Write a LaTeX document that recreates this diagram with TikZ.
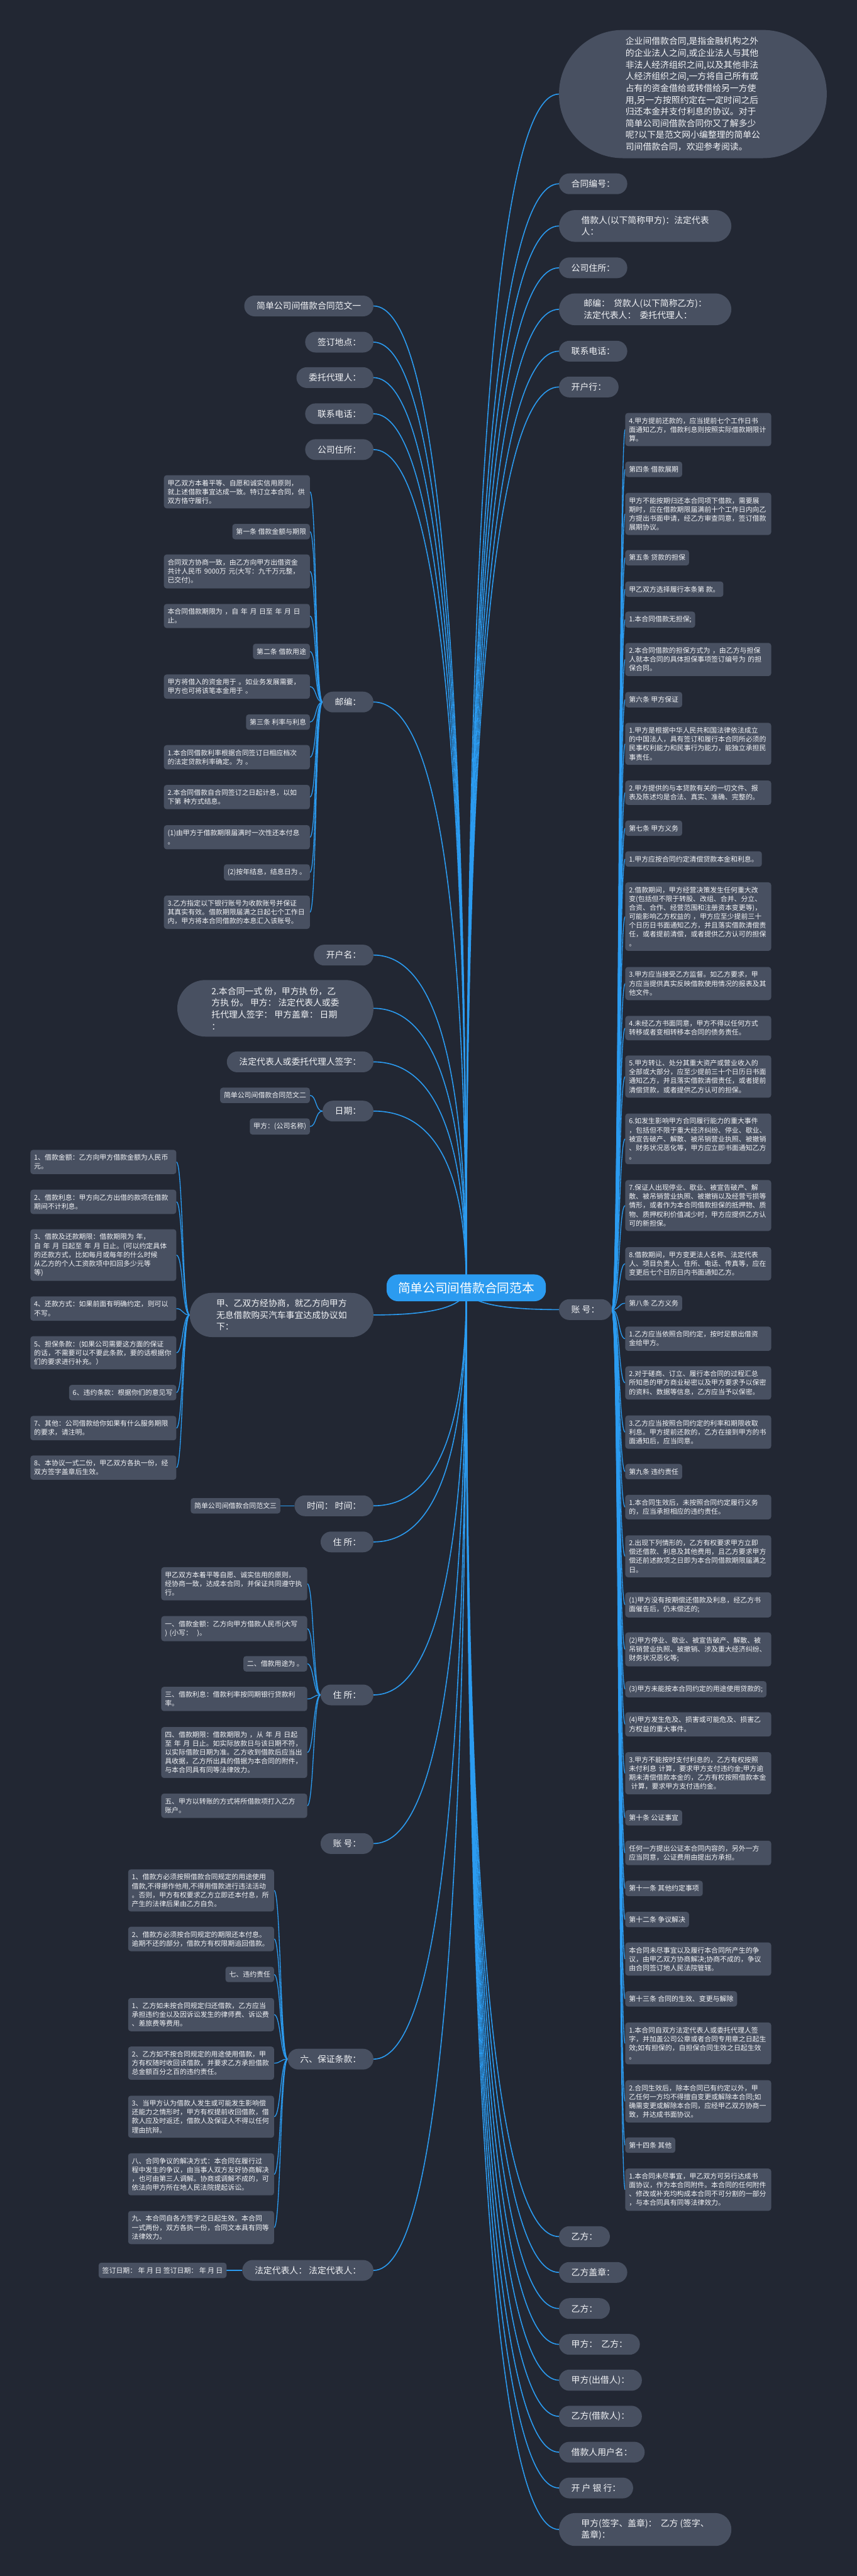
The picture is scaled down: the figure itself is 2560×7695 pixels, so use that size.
\documentclass[tikz,border=0pt]{standalone}
\usepackage{fontspec}
\usepackage{xcolor}
\usepackage{tikz}
\usetikzlibrary{calc}
\newfontfamily\cjk{Noto Sans CJK SC}
\definecolor{sfondo}{HTML}{222733}
\definecolor{grigio}{HTML}{485061}
\definecolor{blu}{HTML}{2B9BF0}
\definecolor{testo}{HTML}{F2F4F7}
\pgfdeclarelayer{fondo}
\pgfdeclarelayer{linee}
\pgfsetlayers{fondo,linee,main}

\begin{document}
\begin{tikzpicture}[x=1pt, y=-1pt,
        radice/.style={fill=blu, text=white, font=\cjk\fontsize{37}{44}\selectfont,
                rounded corners=34pt, minimum width=476pt, minimum height=80pt},
        ramo/.style={fill=grigio, text=testo, font=\cjk\fontsize{26}{35}\selectfont,
                rounded corners=31pt, minimum height=62pt, inner xsep=37pt, inner ysep=18pt,
                align=left},
        foglia/.style={fill=grigio, text=testo, font=\cjk\fontsize{20.5}{26.5}\selectfont,
                rounded corners=8pt, inner xsep=11pt, inner ysep=13.5pt, align=left},
        lunga/.style={foglia, text width=414pt},
        filo/.style={draw=blu, line width=3pt},
        filino/.style={draw=blu, line width=2.5pt},
        giro/.style={to path={.. controls ($(\tikztostart)!0.67!(\tikztostart -| \tikztotarget)$)
                and ($(\tikztotarget)!0.66!(\tikztotarget |- \tikztostart)$) .. (\tikztotarget)}},
        destra/.style={to path={.. controls +(23,0) and +(-20,0) .. (\tikztotarget)}},
        sinistra/.style={to path={.. controls +(-22,0) and +(20,0) .. (\tikztotarget)}}
    ]
    \begin{pgfonlayer}{fondo}
        \fill[sfondo] (0,0) rectangle (2560,7695);
    \end{pgfonlayer}

    % Coordinate assolute, in pixel del disegno
    \node[radice] (rad) at (1393,3847) {简单公司间借款合同范本};

    % rami a destra
    \node[ramo, anchor=west, minimum width=800pt, minimum height=383pt, rounded corners=191pt] (intro) at (1670,281)
    {企业间借款合同,是指金融机构之外\\的企业法人之间,或企业法人与其他\\非法人经济组织之间,以及其他非法\\人经济组织之间,一方将自己所有或\\占有的资金借给或转借给另一方使\\用,另一方按照约定在一定时间之后\\归还本金并支付利息的协议。对于\\简单公司间借款合同你又了解多少\\呢?以下是范文网小编整理的简单公\\司间借款合同，欢迎参考阅读。};
    \node[ramo, anchor=west] (numero) at (1670,549) {合同编号：};
    \node[ramo, anchor=west, minimum width=515pt, rounded corners=48pt] (debitore) at (1670,675) {借款人(以下简称甲方)：法定代表\\人：};
    \node[ramo, anchor=west] (sede) at (1670,800) {公司住所：};
    \node[ramo, anchor=west, minimum width=515pt, rounded corners=48pt] (cap) at (1670,924) {邮编：\ \ 贷款人(以下简称乙方)：\\法定代表人：\ \ 委托代理人：};
    \node[ramo, anchor=west] (tel) at (1670,1049) {联系电话：};
    \node[ramo, anchor=west] (banca) at (1670,1156) {开户行：};
    \node[ramo, anchor=west] (conto) at (1670,3912) {账\ 号：};
    \node[ramo, anchor=west] (yi1) at (1670,6681) {乙方：};
    \node[ramo, anchor=west] (timbro) at (1670,6788) {乙方盖章：};
    \node[ramo, anchor=west] (yi2) at (1670,6896) {乙方：};
    \node[ramo, anchor=west] (parti) at (1670,7003) {甲方：\ \ 乙方：};
    \node[ramo, anchor=west] (mutuante) at (1670,7110) {甲方(出借人)：};
    \node[ramo, anchor=west] (prestito) at (1670,7218) {乙方(借款人)：};
    \node[ramo, anchor=west] (utente) at (1670,7325) {借款人用户名：};
    \node[ramo, anchor=west] (istituto) at (1670,7432) {开\ 户\ 银\ 行：};
    \node[ramo, anchor=west, minimum width=515pt, rounded corners=48pt] (firme) at (1670,7556) {甲方(签字、盖章)：\ \ 乙方 (签字、\\盖章)：};

    % rami a sinistra
    \node[ramo, anchor=east] (uno) at (1116,914) {简单公司间借款合同范文一};
    \node[ramo, anchor=east] (luogo) at (1116,1022) {签订地点：};
    \node[ramo, anchor=east] (delegato) at (1116,1128) {委托代理人：};
    \node[ramo, anchor=east] (tel2) at (1116,1236) {联系电话：};
    \node[ramo, anchor=east] (sede2) at (1116,1343) {公司住所：};
    \node[ramo, anchor=east] (posta) at (1116,2097) {邮编：};
    \node[ramo, anchor=east] (nome) at (1116,2853) {开户名：};
    \node[ramo, anchor=east, minimum width=586pt, minimum height=169pt, rounded corners=84pt] (copie) at (1116,3012)
    {2.本合同一式 份，甲方执 份，乙\\方执 份。 甲方： 法定代表人或委\\托代理人签字： 甲方盖章： 日期\\：};
    \node[ramo, anchor=east] (firma) at (1116,3172) {法定代表人或委托代理人签字：};
    \node[ramo, anchor=east] (data) at (1116,3319) {日期：};
    \node[ramo, anchor=east, minimum width=549pt, minimum height=132pt, rounded corners=66pt] (accordo) at (1116,3928)
    {甲、乙双方经协商，就乙方向甲方\\无息借款购买汽车事宜达成协议如\\下：};
    \node[ramo, anchor=east] (tempo) at (1116,4498) {时间：\ 时间：};
    \node[ramo, anchor=east] (dom1) at (1116,4606) {住\ 所：};
    \node[ramo, anchor=east] (dom2) at (1116,5063) {住\ 所：};
    \node[ramo, anchor=east] (conto2) at (1116,5507) {账\ 号：};
    \node[ramo, anchor=east] (garanzia) at (1116,6151) {六、保证条款：};
    \node[ramo, anchor=east] (legali) at (1116,6782) {法定代表人：\ 法定代表人：};

    % foglie di "账号"
    \node[lunga, anchor=west] (a1) at (1868,1283) {4.甲方提前还款的，应当提前七个工作日书\\面通知乙方，借款利息则按照实际借款期限计\\算。};
    \node[foglia, anchor=west] (a2) at (1868,1402) {第四条 借款展期};
    \node[lunga, anchor=west] (a3) at (1868,1535) {甲方不能按期归还本合同项下借款，需要展\\期时，应在借款期限届满前十个工作日内向乙\\方提出书面申请，经乙方审查同意，签订借款\\展期协议。};
    \node[foglia, anchor=west] (a4) at (1868,1666) {第五条 贷款的担保};
    \node[foglia, anchor=west] (a5) at (1868,1760) {甲乙双方选择履行本条第 款。};
    \node[foglia, anchor=west] (a6) at (1868,1851) {1.本合同借款无担保;};
    \node[lunga, anchor=west] (a7) at (1868,1970) {2.本合同借款的担保方式为 ，由乙方与担保\\人就本合同的具体担保事项签订编号为 的担\\保合同。};
    \node[foglia, anchor=west] (a8) at (1868,2090) {第六条 甲方保证};
    \node[lunga, anchor=west] (a9) at (1868,2222) {1.甲方是根据中华人民共和国法律依法成立\\的中国法人，具有签订和履行本合同所必须的\\民事权利能力和民事行为能力，能独立承担民\\事责任。};
    \node[lunga, anchor=west] (a10) at (1868,2368) {2.甲方提供的与本贷款有关的一切文件、报\\表及陈述均是合法、真实、准确、完整的。};
    \node[foglia, anchor=west] (a11) at (1868,2474) {第七条 甲方义务};
    \node[foglia, anchor=west] (a12) at (1868,2566) {1.甲方应按合同约定清偿贷款本金和利息。};
    \node[lunga, anchor=west] (a13) at (1868,2738) {2.借款期间，甲方经营决策发生任何重大改\\变(包括但不限于转股、改组、合并、分立、\\合资、合作、经营范围和注册资本变更等)，\\可能影响乙方权益的 ，甲方应至少提前三十\\个日历日书面通知乙方，并且落实借款清偿责\\任，或者提前清偿，或者提供乙方认可的担保\\。};
    \node[lunga, anchor=west] (a14) at (1868,2938) {3.甲方应当接受乙方监督。如乙方要求，甲\\方应当提供真实反映借款使用情况的报表及其\\他文件。};
    \node[lunga, anchor=west] (a15) at (1868,3071) {4.未经乙方书面同意，甲方不得以任何方式\\转移或者变相转移本合同的债务责任。};
    \node[lunga, anchor=west] (a16) at (1868,3216) {5.甲方转让、处分其重大资产或营业收入的\\全部或大部分，应至少提前三十个日历日书面\\通知乙方，并且落实借款清偿责任，或者提前\\清偿贷款，或者提供乙方认可的担保。};
    \node[lunga, anchor=west] (a17) at (1868,3402) {6.如发生影响甲方合同履行能力的重大事件\\，包括但不限于重大经济纠纷、停业、歇业、\\被宣告破产、解散、被吊销营业执照、被撤销\\、财务状况恶化等，甲方应立即书面通知乙方\\。};
    \node[lunga, anchor=west] (a18) at (1868,3601) {7.保证人出现停业、歇业、被宣告破产、解\\散、被吊销营业执照、被撤销以及经营亏损等\\情形，或者作为本合同借款担保的抵押物、质\\物、质押权利价值减少时，甲方应提供乙方认\\可的新担保。};
    \node[lunga, anchor=west] (a19) at (1868,3775) {8.借款期间，甲方变更法人名称、法定代表\\人、项目负责人、住所、电话、传真等，应在\\变更后七个日历日内书面通知乙方。};
    \node[foglia, anchor=west] (a20) at (1868,3893) {第八条 乙方义务};
    \node[lunga, anchor=west] (a21) at (1868,3999) {1.乙方应当依照合同约定，按时足额出借资\\金给甲方。};
    \node[lunga, anchor=west] (a22) at (1868,4131) {2.对于磋商、订立、履行本合同的过程汇总\\所知悉的甲方商业秘密以及甲方要求予以保密\\的资料、数据等信息，乙方应当予以保密。};
    \node[lunga, anchor=west] (a23) at (1868,4278) {3.乙方应当按照合同约定的利率和期限收取\\利息。甲方提前还款的，乙方在接到甲方的书\\面通知后，应当同意。};
    \node[foglia, anchor=west] (a24) at (1868,4396) {第九条 违约责任};
    \node[lunga, anchor=west] (a25) at (1868,4502) {1.本合同生效后，未按照合同约定履行义务\\的，应当承担相应的违约责任。};
    \node[lunga, anchor=west] (a26) at (1868,4649) {2.出现下列情形的，乙方有权要求甲方立即\\偿还借款、利息及其他费用，且乙方要求甲方\\偿还前述款项之日即为本合同借款期限届满之\\日。};
    \node[lunga, anchor=west] (a27) at (1868,4794) {(1)甲方没有按期偿还借款及利息，经乙方书\\面催告后，仍未偿还的;};
    \node[lunga, anchor=west] (a28) at (1868,4927) {(2)甲方停业、歇业、被宣告破产、解散、被\\吊销营业执照、被撤销、涉及重大经济纠纷、\\财务状况恶化等;};
    \node[foglia, anchor=west] (a29) at (1868,5046) {(3)甲方未能按本合同约定的用途使用贷款的;};
    \node[lunga, anchor=west] (a30) at (1868,5151) {(4)甲方发生危及、损害或可能危及、损害乙\\方权益的重大事件。};
    \node[lunga, anchor=west] (a31) at (1868,5297) {3.甲方不能按时支付利息的，乙方有权按照\\未付利息 计算，要求甲方支付违约金;甲方逾\\期未清偿借款本金的，乙方有权按照借款本金\\\ 计算，要求甲方支付违约金。};
    \node[foglia, anchor=west] (a32) at (1868,5430) {第十条 公证事宜};
    \node[lunga, anchor=west] (a33) at (1868,5535) {任何一方提出公证本合同内容的，另外一方\\应当同意，公证费用由提出方承担。};
    \node[foglia, anchor=west] (a34) at (1868,5641) {第十一条 其他约定事项};
    \node[foglia, anchor=west] (a35) at (1868,5734) {第十二条 争议解决};
    \node[lunga, anchor=west] (a36) at (1868,5852) {本合同未尽事宜以及履行本合同所产生的争\\议，由甲乙双方协商解决;协商不成的，争议\\由合同签订地人民法院管辖。};
    \node[foglia, anchor=west] (a37) at (1868,5971) {第十三条 合同的生效、变更与解除};
    \node[lunga, anchor=west] (a38) at (1868,6104) {1.本合同自双方法定代表人或委托代理人签\\字，并加盖公司公章或者合同专用章之日起生\\效;如有担保的，自担保合同生效之日起生效\\。};
    \node[lunga, anchor=west] (a39) at (1868,6277) {2.合同生效后，除本合同已有约定以外，甲\\乙任何一方均不得擅自变更或解除本合同;如\\确需变更或解除本合同，应经甲乙双方协商一\\致，并达成书面协议。};
    \node[foglia, anchor=west] (a40) at (1868,6408) {第十四条 其他};
    \node[lunga, anchor=west] (a41) at (1868,6541) {1.本合同未尽事宜，甲乙双方可另行达成书\\面协议，作为本合同附件。本合同的任何附件\\、修改或补充均构成本合同不可分割的一部分\\，与本合同具有同等法律效力。};

    % foglie di "邮编"
    \node[lunga, anchor=east] (e1) at (926,1469) {甲乙双方本着平等、自愿和诚实信用原则，\\就上述借款事宜达成一致。特订立本合同，供\\双方恪守履行。};
    \node[foglia, anchor=east] (e2) at (926,1588) {第一条 借款金额与期限};
    \node[lunga, anchor=east] (e3) at (926,1707) {合同双方协商一致，由乙方向甲方出借资金\\共计人民币 9000万 元(大写：九千万元整，\\已交付)。};
    \node[lunga, anchor=east] (e4) at (926,1840) {本合同借款期限为 ，自 年 月 日至 年 月 日\\止。};
    \node[foglia, anchor=east] (e5) at (926,1946) {第二条 借款用途};
    \node[lunga, anchor=east] (e6) at (926,2051) {甲方将借入的资金用于 。如业务发展需要，\\甲方也可将该笔本金用于 。};
    \node[foglia, anchor=east] (e7) at (926,2157) {第三条 利率与利息};
    \node[lunga, anchor=east] (e8) at (926,2262) {1.本合同借款利率根据合同签订日相应档次\\的法定贷款利率确定。为 。};
    \node[lunga, anchor=east] (e9) at (926,2381) {2.本合同借款自合同签订之日起计息，以如\\下第 种方式结息。};
    \node[lunga, anchor=east] (e10) at (926,2501) {(1)由甲方于借款期限届满时一次性还本付息\\。};
    \node[foglia, anchor=east] (e11) at (926,2606) {(2)按年结息，结息日为 。};
    \node[lunga, anchor=east] (e12) at (926,2725) {3.乙方指定以下银行账号为收款账号并保证\\其真实有效。借款期限届满之日起七个工作日\\内，甲方将本合同借款的本息汇入该账号。};

    % foglie di "日期"
    \node[foglia, anchor=east] (d1) at (926,3272) {简单公司间借款合同范文二};
    \node[foglia, anchor=east] (d2) at (926,3365) {甲方：(公司名称)};

    % foglie dell'accordo
    \node[lunga, anchor=east] (c1) at (527,3471) {1、借款金额：乙方向甲方借款金额为人民币\\元。};
    \node[lunga, anchor=east] (c2) at (527,3590) {2、借款利息：甲方向乙方出借的款项在借款\\期间不计利息。};
    \node[lunga, anchor=east] (c3) at (527,3749) {3、借款及还款期限：借款期限为 年，\\自 年 月 日起至 年 月 日止。(可以约定具体\\的还款方式，比如每月或每年的什么时候\\从乙方的个人工资款项中扣回多少元等\\等)};
    \node[lunga, anchor=east] (c4) at (527,3909) {4、还款方式：如果前面有明确约定，则可以\\不写。};
    \node[lunga, anchor=east] (c5) at (527,4041) {5、担保条款：(如果公司需要这方面的保证\\的话，不需要可以不要此条款，要的话根据你\\们的要求进行补充。）};
    \node[foglia, anchor=east] (c6) at (527,4160) {6、违约条款：根据你们的意见写};
    \node[lunga, anchor=east] (c7) at (527,4266) {7、其他：公司借款给你如果有什么服务期限\\的要求，请注明。};
    \node[lunga, anchor=east] (c8) at (527,4384) {8、本协议一式二份，甲乙双方各执一份，经\\双方签字盖章后生效。};

    \node[foglia, anchor=east] (t1) at (838,4498) {简单公司间借款合同范文三};

    % foglie di "住所"
    \node[lunga, anchor=east] (f1) at (918,4731) {甲乙双方本着平等自愿、诚实信用的原则，\\经协商一致，达成本合同，并保证共同遵守执\\行。};
    \node[lunga, anchor=east] (f2) at (918,4865) {一、借款金额：乙方向甲方借款人民币(大写\\) (小写：\ \ )。};
    \node[foglia, anchor=east] (f3) at (918,4970) {二、借款用途为 。};
    \node[lunga, anchor=east] (f4) at (918,5075) {三、借款利息：借款利率按同期银行贷款利\\率。};
    \node[lunga, anchor=east] (f5) at (918,5235) {四、借款期限：借款期限为 ，从 年 月 日起\\至 年 月 日止。如实际放款日与该日期不符，\\以实际借款日期为准。乙方收到借款后应当出\\具收据，乙方所出具的借据为本合同的附件，\\与本合同具有同等法律效力。};
    \node[lunga, anchor=east] (f6) at (918,5394) {五、甲方以转账的方式将所借款项打入乙方\\账户。};

    % foglie di "保证条款"
    \node[lunga, anchor=east] (g1) at (819,5647) {1、借款方必须按照借款合同规定的用途使用\\借款,不得挪作他用,不得用借款进行违法活动\\。否则，甲方有权要求乙方立即还本付息，所\\产生的法律后果由乙方自负。};
    \node[lunga, anchor=east] (g2) at (819,5792) {2、借款方必须按合同规定的期限还本付息。\\逾期不还的部分，借款方有权限期追回借款。};
    \node[foglia, anchor=east] (g3) at (819,5898) {七、违约责任};
    \node[lunga, anchor=east] (g4) at (819,6018) {1、乙方如未按合同规定归还借款，乙方应当\\承担违约金以及因诉讼发生的律师费、诉讼费\\、差旅费等费用。};
    \node[lunga, anchor=east] (g5) at (819,6163) {2、乙方如不按合同规定的用途使用借款，甲\\方有权随时收回该借款，并要求乙方承担借款\\总金额百分之百的违约责任。};
    \node[lunga, anchor=east] (g6) at (819,6323) {3、当甲方认为借款人发生或可能发生影响偿\\还能力之情形时，甲方有权提前收回借款，借\\款人应及时返还，借款人及保证人不得以任何\\理由抗辩。};
    \node[lunga, anchor=east] (g7) at (819,6495) {八、合同争议的解决方式：本合同在履行过\\程中发生的争议，由当事人双方友好协商解决\\，也可由第三人调解。协商或调解不成的，可\\依法向甲方所在地人民法院提起诉讼。};
    \node[lunga, anchor=east] (g8) at (819,6654) {九、本合同自各方签字之日起生效。本合同\\一式两份，双方各执一份，合同文本具有同等\\法律效力。};

    \node[foglia, anchor=east] (l1) at (677,6782) {签订日期：\ 年\ 月\ 日\ 签订日期：\ 年\ 月\ 日};

    \begin{pgfonlayer}{linee}
        % dal centro ai rami
        \draw[filo] (intro.west) to[giro] (rad.center);
        \draw[filo] (numero.west) to[giro] (rad.center);
        \draw[filo] (debitore.west) to[giro] (rad.center);
        \draw[filo] (sede.west) to[giro] (rad.center);
        \draw[filo] (cap.west) to[giro] (rad.center);
        \draw[filo] (tel.west) to[giro] (rad.center);
        \draw[filo] (banca.west) to[giro] (rad.center);
        \draw[filo] (conto.west) to[giro] (rad.center);
        \draw[filo] (yi1.west) to[giro] (rad.center);
        \draw[filo] (timbro.west) to[giro] (rad.center);
        \draw[filo] (yi2.west) to[giro] (rad.center);
        \draw[filo] (parti.west) to[giro] (rad.center);
        \draw[filo] (mutuante.west) to[giro] (rad.center);
        \draw[filo] (prestito.west) to[giro] (rad.center);
        \draw[filo] (utente.west) to[giro] (rad.center);
        \draw[filo] (istituto.west) to[giro] (rad.center);
        \draw[filo] (firme.west) to[giro] (rad.center);
        \draw[filo] (uno.east) to[giro] (rad.center);
        \draw[filo] (luogo.east) to[giro] (rad.center);
        \draw[filo] (delegato.east) to[giro] (rad.center);
        \draw[filo] (tel2.east) to[giro] (rad.center);
        \draw[filo] (sede2.east) to[giro] (rad.center);
        \draw[filo] (posta.east) to[giro] (rad.center);
        \draw[filo] (nome.east) to[giro] (rad.center);
        \draw[filo] (copie.east) to[giro] (rad.center);
        \draw[filo] (firma.east) to[giro] (rad.center);
        \draw[filo] (data.east) to[giro] (rad.center);
        \draw[filo] (accordo.east) to[giro] (rad.center);
        \draw[filo] (tempo.east) to[giro] (rad.center);
        \draw[filo] (dom1.east) to[giro] (rad.center);
        \draw[filo] (dom2.east) to[giro] (rad.center);
        \draw[filo] (conto2.east) to[giro] (rad.center);
        \draw[filo] (garanzia.east) to[giro] (rad.center);
        \draw[filo] (legali.east) to[giro] (rad.center);

        % dai rami alle foglie
        \draw[filino] (conto.east) to[destra] (a1.west);
        \draw[filino] (conto.east) to[destra] (a2.west);
        \draw[filino] (conto.east) to[destra] (a3.west);
        \draw[filino] (conto.east) to[destra] (a4.west);
        \draw[filino] (conto.east) to[destra] (a5.west);
        \draw[filino] (conto.east) to[destra] (a6.west);
        \draw[filino] (conto.east) to[destra] (a7.west);
        \draw[filino] (conto.east) to[destra] (a8.west);
        \draw[filino] (conto.east) to[destra] (a9.west);
        \draw[filino] (conto.east) to[destra] (a10.west);
        \draw[filino] (conto.east) to[destra] (a11.west);
        \draw[filino] (conto.east) to[destra] (a12.west);
        \draw[filino] (conto.east) to[destra] (a13.west);
        \draw[filino] (conto.east) to[destra] (a14.west);
        \draw[filino] (conto.east) to[destra] (a15.west);
        \draw[filino] (conto.east) to[destra] (a16.west);
        \draw[filino] (conto.east) to[destra] (a17.west);
        \draw[filino] (conto.east) to[destra] (a18.west);
        \draw[filino] (conto.east) to[destra] (a19.west);
        \draw[filino] (conto.east) to[destra] (a20.west);
        \draw[filino] (conto.east) to[destra] (a21.west);
        \draw[filino] (conto.east) to[destra] (a22.west);
        \draw[filino] (conto.east) to[destra] (a23.west);
        \draw[filino] (conto.east) to[destra] (a24.west);
        \draw[filino] (conto.east) to[destra] (a25.west);
        \draw[filino] (conto.east) to[destra] (a26.west);
        \draw[filino] (conto.east) to[destra] (a27.west);
        \draw[filino] (conto.east) to[destra] (a28.west);
        \draw[filino] (conto.east) to[destra] (a29.west);
        \draw[filino] (conto.east) to[destra] (a30.west);
        \draw[filino] (conto.east) to[destra] (a31.west);
        \draw[filino] (conto.east) to[destra] (a32.west);
        \draw[filino] (conto.east) to[destra] (a33.west);
        \draw[filino] (conto.east) to[destra] (a34.west);
        \draw[filino] (conto.east) to[destra] (a35.west);
        \draw[filino] (conto.east) to[destra] (a36.west);
        \draw[filino] (conto.east) to[destra] (a37.west);
        \draw[filino] (conto.east) to[destra] (a38.west);
        \draw[filino] (conto.east) to[destra] (a39.west);
        \draw[filino] (conto.east) to[destra] (a40.west);
        \draw[filino] (conto.east) to[destra] (a41.west);

        \draw[filino] (posta.west) to[sinistra] (e1.east);
        \draw[filino] (posta.west) to[sinistra] (e2.east);
        \draw[filino] (posta.west) to[sinistra] (e3.east);
        \draw[filino] (posta.west) to[sinistra] (e4.east);
        \draw[filino] (posta.west) to[sinistra] (e5.east);
        \draw[filino] (posta.west) to[sinistra] (e6.east);
        \draw[filino] (posta.west) to[sinistra] (e7.east);
        \draw[filino] (posta.west) to[sinistra] (e8.east);
        \draw[filino] (posta.west) to[sinistra] (e9.east);
        \draw[filino] (posta.west) to[sinistra] (e10.east);
        \draw[filino] (posta.west) to[sinistra] (e11.east);
        \draw[filino] (posta.west) to[sinistra] (e12.east);

        \draw[filino] (data.west) to[sinistra] (d1.east);
        \draw[filino] (data.west) to[sinistra] (d2.east);

        \draw[filino] (accordo.west) to[sinistra] (c1.east);
        \draw[filino] (accordo.west) to[sinistra] (c2.east);
        \draw[filino] (accordo.west) to[sinistra] (c3.east);
        \draw[filino] (accordo.west) to[sinistra] (c4.east);
        \draw[filino] (accordo.west) to[sinistra] (c5.east);
        \draw[filino] (accordo.west) to[sinistra] (c6.east);
        \draw[filino] (accordo.west) to[sinistra] (c7.east);
        \draw[filino] (accordo.west) to[sinistra] (c8.east);

        \draw[filino] (tempo.west) -- (t1.east);

        \draw[filino] (dom2.west) to[sinistra] (f1.east);
        \draw[filino] (dom2.west) to[sinistra] (f2.east);
        \draw[filino] (dom2.west) to[sinistra] (f3.east);
        \draw[filino] (dom2.west) to[sinistra] (f4.east);
        \draw[filino] (dom2.west) to[sinistra] (f5.east);
        \draw[filino] (dom2.west) to[sinistra] (f6.east);

        \draw[filino] (garanzia.west) to[sinistra] (g1.east);
        \draw[filino] (garanzia.west) to[sinistra] (g2.east);
        \draw[filino] (garanzia.west) to[sinistra] (g3.east);
        \draw[filino] (garanzia.west) to[sinistra] (g4.east);
        \draw[filino] (garanzia.west) to[sinistra] (g5.east);
        \draw[filino] (garanzia.west) to[sinistra] (g6.east);
        \draw[filino] (garanzia.west) to[sinistra] (g7.east);
        \draw[filino] (garanzia.west) to[sinistra] (g8.east);

        \draw[filino] (legali.west) -- (l1.east);
    \end{pgfonlayer}
\end{tikzpicture}
\end{document}
